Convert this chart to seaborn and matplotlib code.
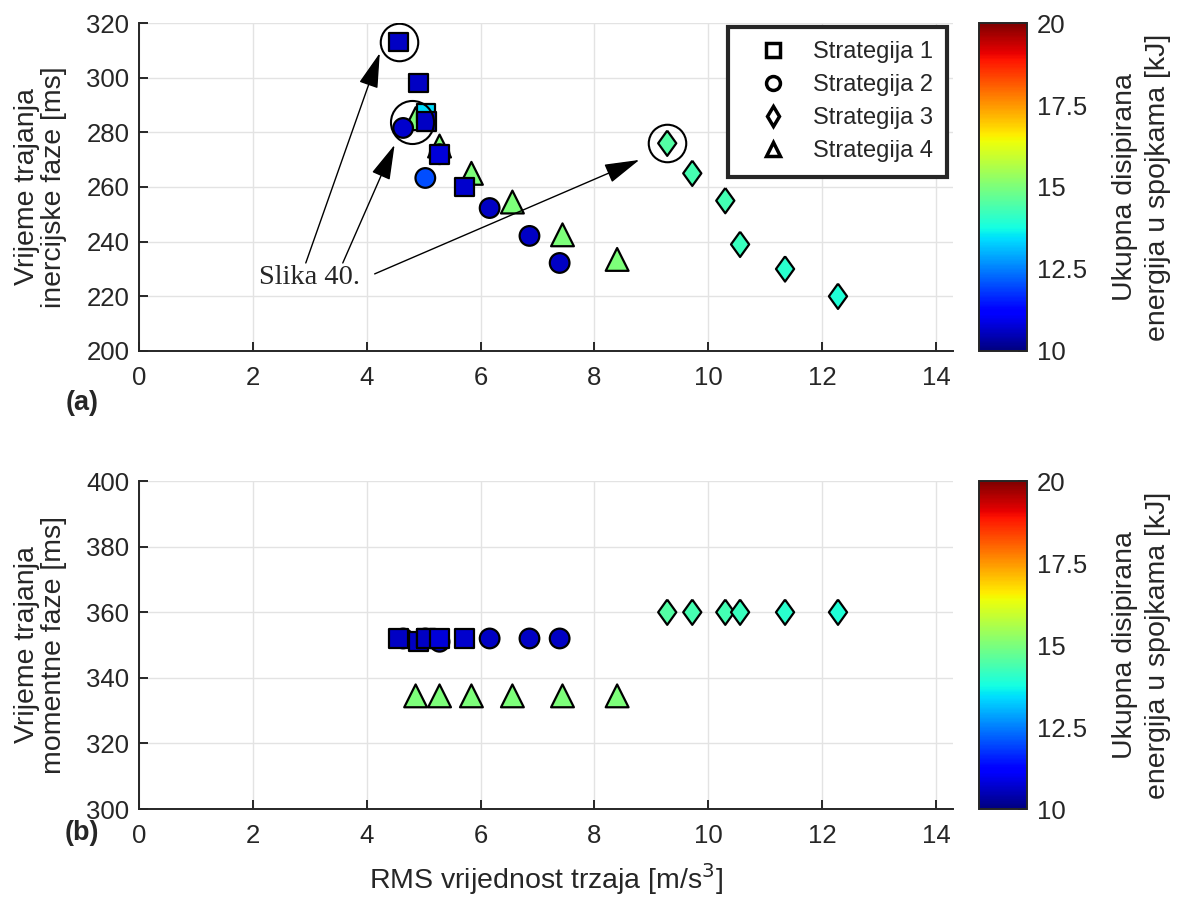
import numpy as np
import pandas as pd
import matplotlib
matplotlib.use("Agg")
import matplotlib.pyplot as plt
from matplotlib.lines import Line2D
import seaborn as sns

# Values
s1_rms = [4.56, 4.91, 5.04, 5.05, 5.28, 5.72]
s1_inert = [313, 298, 287, 284, 272, 260]
s1_moment = [352, 351, 352, 352, 352, 352]
s1_energy = [10.6, 10.6, 13.4, 10.6, 10.8, 10.7]

s2_rms = [4.64, 5.03, 5.28, 6.16, 6.86, 7.39]
s2_inert = [281.6, 263.3, 272, 252.3, 242.1, 232.2]
s2_moment = [352, 352, 351, 352, 352, 352]
s2_energy = [10.7, 12.0, 10.6, 10.6, 10.6, 10.6]

s3_rms = [9.28, 9.72, 10.30, 10.56, 11.35, 12.28]
s3_inert = [276, 265, 255, 239, 230, 220]
s3_moment = [360, 360, 360, 360, 360, 360]
s3_energy = [14.5, 14.35, 14.3, 14.2, 14.0, 13.9]

s4_rms = [4.86, 5.28, 5.84, 6.56, 7.44, 8.40]
s4_inert = [285, 275, 265, 254.5, 242.5, 233.5]
s4_moment = [334.5, 334.5, 334.5, 334.5, 334.5, 334.5]
s4_energy = [15.0, 15.0, 15.0, 15.0, 15.0, 15.0]

strategies = ["Strategija 1", "Strategija 2", "Strategija 3", "Strategija 4"]

# highlighted points ("Slika 40.")
hl_x = [4.56, 4.79, 9.28]
hl_y = [313, 283.8, 276]
hl_size = [27, 31, 27]
arrow_tail = [(2.93, 232.2), (3.58, 232.2), (4.14, 228.2)]
arrow_head = [(4.23, 309), (4.49, 275.4), (8.79, 269.9)]

frames = []
for name, rms, inert, mom, en in zip(
        strategies,
        [s1_rms, s2_rms, s3_rms, s4_rms],
        [s1_inert, s2_inert, s3_inert, s4_inert],
        [s1_moment, s2_moment, s3_moment, s4_moment],
        [s1_energy, s2_energy, s3_energy, s4_energy]):
    frames.append(pd.DataFrame({"strategija": name, "rms": rms, "inert": inert,
                                "moment": mom, "energy": en}))
df = pd.concat(frames, ignore_index=True)

diamond = [(0, 1), (0.72, 0), (0, -1), (-0.72, 0), (0, 1)]
markers = {"Strategija 1": ("s", 180), "Strategija 2": ("o", 200),
           "Strategija 3": (diamond, 330), "Strategija 4": ("^", 270)}
legend_markers = {"Strategija 1": "s", "Strategija 2": "o",
                  "Strategija 3": "d", "Strategija 4": "^"}

sns.set_theme(style="ticks")
plt.rcParams["font.family"] = ["Liberation Sans", "DejaVu Sans"]
dark = "#262626"
jet = matplotlib.colormaps["jet"]
tick_fs = 18.5
label_fs = 20.5

fig = plt.figure(figsize=(11.8, 8.99), dpi=100)
ax1 = fig.add_axes([0.1178, 0.6096, 0.6898, 0.3648])
ax2 = fig.add_axes([0.1178, 0.1001, 0.6898, 0.3648])
cax1 = fig.add_axes([0.8297, 0.6096, 0.0407, 0.3648])
cax2 = fig.add_axes([0.8297, 0.1001, 0.0407, 0.3648])

norm = plt.Normalize(10, 20)
for ax, ycol in [(ax1, "inert"), (ax2, "moment")]:
    for name in strategies[::-1]:
        mk, sz = markers[name]
        sns.scatterplot(data=df[df.strategija == name], x="rms", y=ycol, hue="energy",
                        palette=jet, hue_norm=norm, marker=mk, s=sz,
                        edgecolor="black", linewidth=1.6, legend=False, ax=ax, zorder=3)
    ax.set_xlim(0, 14.3)
    ax.set_xticks(np.arange(0, 15, 2))
    ax.grid(True, color="#e3e3e3", linewidth=1)
    ax.set_axisbelow(True)
    ax.tick_params(direction="in", length=6.5, width=1.4, labelsize=tick_fs, colors=dark)
    ax.tick_params(axis="x", pad=11)
    ax.tick_params(axis="y", pad=7)
    for sp in ["top", "right"]:
        ax.spines[sp].set_visible(False)
    for sp in ["left", "bottom"]:
        ax.spines[sp].set_color(dark)
        ax.spines[sp].set_linewidth(1.4)
    ax.set_xlabel("")

ax1.set_ylim(200, 320)
ax1.set_yticks(np.arange(200, 321, 20))
ax2.set_ylim(300, 400)
ax2.set_yticks(np.arange(300, 401, 20))
ax1.set_ylabel("Vrijeme trajanja\ninercijske faze [ms]", fontsize=label_fs, color=dark,
               linespacing=1.05)
ax2.set_ylabel("Vrijeme trajanja\nmomentne faze [ms]", fontsize=label_fs, color=dark,
               linespacing=1.05)
ax1.yaxis.set_label_coords(-0.089, 0.5)
ax2.yaxis.set_label_coords(-0.089, 0.5)
ax2.set_xlabel("RMS vrijednost trzaja [m/s$^3$]", fontsize=label_fs, color=dark, labelpad=9)

# highlight circles and arrows
for x, y, ms in zip(hl_x, hl_y, hl_size):
    ax1.plot(x, y, "o", mfc="none", mec="black", ms=ms, mew=1.5, zorder=4)
for t, h in zip(arrow_tail, arrow_head):
    ax1.annotate("", xy=h, xytext=t,
                 arrowprops=dict(arrowstyle="-|>,head_length=1.0,head_width=0.28",
                                 color="black", lw=1, mutation_scale=22, shrinkA=0, shrinkB=0),
                 zorder=5)
ax1.text(2.1, 226.7, "Slika 40.", fontsize=20.5, family=["Liberation Serif", "DejaVu Serif"],
         va="center", ha="left", zorder=6)

# legend
handles = [Line2D([], [], linestyle="none", marker=legend_markers[n], mfc="white",
                  mec="black", mew=2.5, ms=10) for n in strategies]
leg = ax1.legend(handles, strategies, loc="upper right", bbox_to_anchor=(0.993, 0.988),
                 borderaxespad=0, fontsize=17, fancybox=False, framealpha=1,
                 handletextpad=0.4, labelspacing=0.47, borderpad=0.6, handlelength=2.6)
leg.get_frame().set_edgecolor(dark)
leg.get_frame().set_linewidth(3)

# colorbars
sm = plt.cm.ScalarMappable(norm=norm, cmap=jet)
for cax in [cax1, cax2]:
    cb = fig.colorbar(sm, cax=cax)
    cb.set_ticks([10, 12.5, 15, 17.5, 20])
    cb.set_ticklabels(["10", "12.5", "15", "17.5", "20"])
    cb.outline.set_edgecolor(dark)
    cb.outline.set_linewidth(1.4)
    cax.tick_params(direction="in", length=6.5, width=1.4, labelsize=tick_fs, colors=dark,
                    pad=7)
    cb.set_label("Ukupna disipirana\nenergija u spojkama [kJ]", fontsize=label_fs,
                 color=dark, linespacing=1.35)
    cax.yaxis.set_label_coords(2.77, 0.5)

fig.text(0.0695, 0.5517, "(a)", fontsize=19.5, fontweight="bold", ha="center", va="center")
fig.text(0.0695, 0.0734, "(b)", fontsize=19.5, fontweight="bold", ha="center", va="center")

fig.savefig("out.png", dpi=100)
